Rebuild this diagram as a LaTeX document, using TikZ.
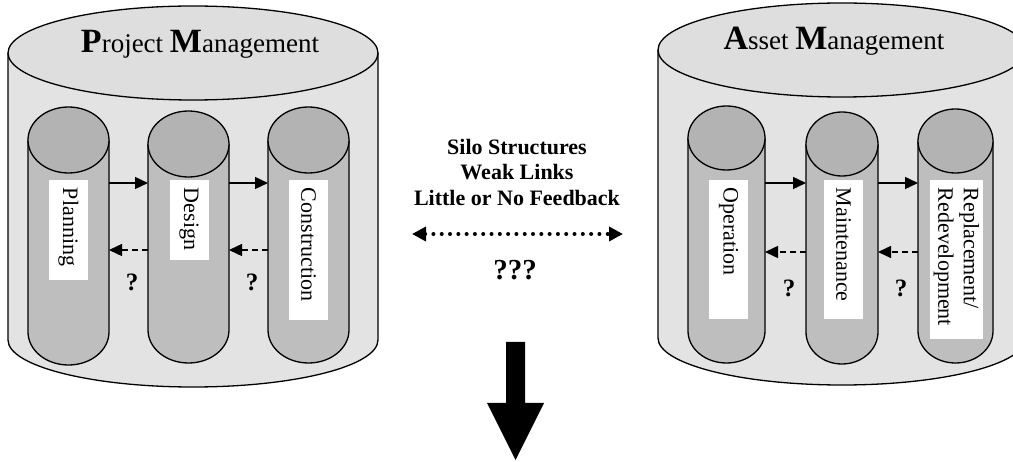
\documentclass[tikz,border=0pt]{standalone}
\usepackage{fontspec}
\setmainfont{Liberation Serif}
\usetikzlibrary{arrows.meta}

\definecolor{silo}{HTML}{E3E3E3}
\definecolor{silotop}{HTML}{DEDEDE}
\definecolor{tube}{HTML}{BEBEBE}
\definecolor{tubetop}{HTML}{B3B3B3}

% upright cylinder: centre x, top-ellipse y, bottom-ellipse y, x radius, y radius, body colour, lid colour
\newcommand{\drum}[7]{%
  \fill[#6] (#1-#4,#2) -- (#1-#4,#3)
    arc[start angle=180,end angle=360,x radius=#4pt,y radius=#5pt] -- (#1+#4,#2) -- cycle;
  \draw[outline] (#1-#4,#2) -- (#1-#4,#3)
    arc[start angle=180,end angle=360,x radius=#4pt,y radius=#5pt] -- (#1+#4,#2);
  \filldraw[outline,fill=#7] (#1,#2) ellipse[x radius=#4pt,y radius=#5pt];
}
\newcommand{\capL}[1]{{\fontsize{34}{34}\selectfont\bfseries #1}}

\tikzset{
  outline/.style={draw=black,line width=1.3pt},
  lab/.style={rotate=-90,fill=white,inner xsep=8pt,inner ysep=0pt,
    minimum height=39pt,align=left,font=\fontsize{22}{25.5}\selectfont},
  flow/.style={line width=1.4pt,-{Triangle[length=13pt,width=12pt]}},
  back/.style={flow,dash pattern=on 6pt off 4pt},
  qmark/.style={font=\bfseries\fontsize{25}{25}\selectfont},
  title/.style={anchor=base,font=\fontsize{27}{27}\selectfont},
}

\begin{document}
\begin{tikzpicture}[x=1pt,y=-1pt]
\path[use as bounding box,fill=white] (0,0) rectangle (1013,462);
\clip (0,0) rectangle (1013,462);

% ---------- project management ----------
\drum{193}{53}{340}{185}{47}{silo}{silotop}
\node[title] (pm) at (200,53) {\capL{P}roject \capL{M}anagement};

\drum{68.5}{140}{332}{40.5}{33}{tube}{tubetop}
\drum{188.5}{144}{330}{40.5}{33}{tube}{tubetop}
\drum{308.5}{140}{330}{40.5}{33}{tube}{tubetop}

\node[lab,text width=84pt]  (plan)  at (68.5,230) {Planning};
\node[lab,text width=64pt]  (des)   at (189,220)  {Design};
\node[lab,text width=124pt] (cons)  at (308.5,250) {Construction};

\coordinate (planR1) at (109,183);   \coordinate (desL1) at (148,183);
\coordinate (planR2) at (109,250);   \coordinate (desL2) at (148,250);
\coordinate (desR1)  at (229,183);   \coordinate (consL1) at (268,183);
\coordinate (desR2)  at (229,250);   \coordinate (consL2) at (268,250);
\draw[flow] (planR1) -- (desL1);
\draw[flow] (desR1) -- (consL1);
\draw[back] (desL2) -- (planR2);
\draw[back] (consL2) -- (desR2);
\node[qmark] (q1) at (132,282) {?};
\node[qmark] (q2) at (252,282) {?};

% ---------- asset management ----------
\drum{842}{50}{338}{184}{47}{silo}{silotop}
\node[title] (am) at (834,50) {\capL{A}sset \capL{M}anagement};

\drum{726.5}{138}{331}{38.5}{32}{tube}{tubetop}
\drum{842}{144}{332}{36}{32}{tube}{tubetop}
\drum{955.5}{141}{331}{37.5}{32}{tube}{tubetop}

\node[lab,text width=123pt] (oper)  at (728.5,249.5) {Operation};
\node[lab,text width=123pt] (maint) at (843.5,249.5) {Maintenance};
\node[lab,text width=143pt,minimum height=53pt] (repl) at (956.5,259.5) {Replacement/\\Redevelopment};

\coordinate (operR1)  at (765,183);  \coordinate (maintL1) at (806,183);
\coordinate (operR2)  at (765,252);  \coordinate (maintL2) at (806,252);
\coordinate (maintR1) at (878,183);  \coordinate (replL1)  at (918,183);
\coordinate (maintR2) at (878,252);  \coordinate (replL2)  at (918,252);
\draw[flow] (operR1) -- (maintL1);
\draw[flow] (maintR1) -- (replL1);
\draw[back] (maintL2) -- (operR2);
\draw[back] (replL2) -- (maintR2);
\node[qmark] (q3) at (789,288) {?};
\node[qmark] (q4) at (901,288) {?};

% ---------- gap between the two silos ----------
\node[align=center,font=\bfseries\fontsize{22}{25.5}\selectfont] (gap) at (517,172)
  {Silo Structures\\Weak Links\\Little or No Feedback};
\coordinate (linkL) at (412,234);
\coordinate (linkR) at (623,234);
\draw[line width=4pt,line cap=round,dash pattern=on 0pt off 8.3pt,
  {Triangle[length=14pt,width=14pt]}-{Triangle[length=14pt,width=14pt]}] (linkL) -- (linkR);
\node[font=\bfseries\fontsize{29}{29}\selectfont] (unk) at (515,270) {???};

% big downward arrow
\fill[black] (506,342) -- (525,342) -- (525,403) -- (544,403) -- (515.5,460)
  -- (487,403) -- (506,403) -- cycle;
\end{tikzpicture}
\end{document}
